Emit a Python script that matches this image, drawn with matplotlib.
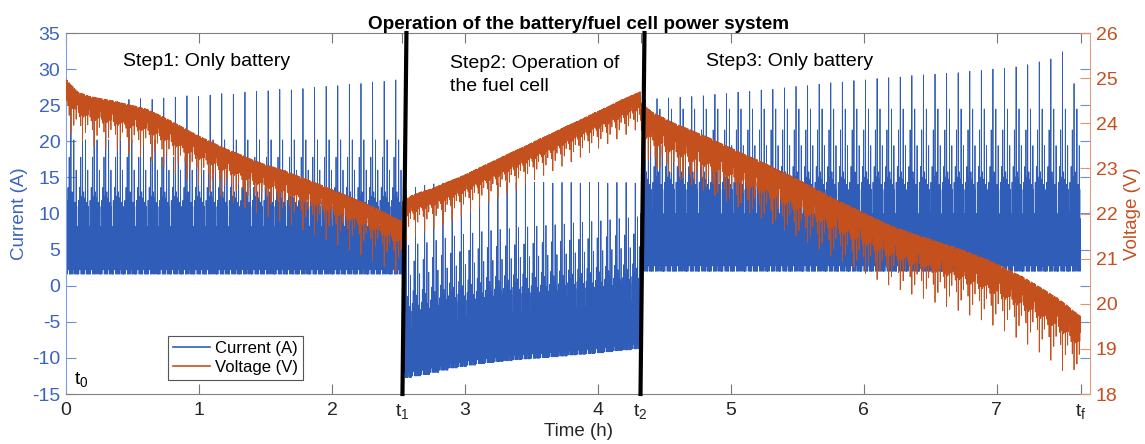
import numpy as np
import matplotlib
matplotlib.use("Agg")
import matplotlib.pyplot as plt
import matplotlib.transforms as mtransforms

plt.rcParams['font.family'] = ['Liberation Sans', 'DejaVu Sans']
plt.rcParams['axes.unicode_minus'] = False

# step boundaries t0, t1, t2, tf  (h)
step_edges = [0.0, 2.53, 4.32, 7.63]
edge_labels = [r'$\mathregular{t_0}$', r'$\mathregular{t_1}$', r'$\mathregular{t_2}$', r'$\mathregular{t_f}$']
step_names = ["Step1: Only battery", "Step2: Operation of\nthe fuel cell", "Step3: Only battery"]

# one drive cycle, load level of every sample (None = the tall spike of the cycle)
cycle_profile = [0.0, 0.55, 0.2, 0.85, 0.0, 0.7, 0.35, 1.0, 0.05, 0.8,
                 0.15, 1.35, 0.0, 0.6, 0.3, 0.9, 0.0, None, 0.1, 0.75,
                 0.0, 0.95, 0.4, 0.65, 0.0, 0.88, 0.25, 1.55, 0.05, 0.72,
                 0.0, 0.83, 0.45, 0.68, 0.0, 1.2, 0.2, 0.78, 0.0, 0.5]

# load span of the drive cycle (A) and voltage sag (V/A) of each step
span_step = [12.0, 11.8, 14.5]
sag_step = [0.045, 0.035, 0.050]

# ---- step 1 : battery only, one value per drive cycle
peak1 = [25.4, 25.3, 25.5, 25.6, 25.5, 25.8, 25.9, 25.8, 26.0, 26.1,
         26.3, 26.2, 26.4, 26.6, 26.5, 26.8, 26.9, 27.0, 27.2, 27.1,
         27.3, 27.5, 27.6, 27.7, 27.9, 28.0, 28.2, 28.3, 28.5]
base1 = [1.6] * 29
volt1 = [24.70, 24.42, 24.32, 24.27, 24.22, 24.16, 24.10, 24.03, 23.91, 23.78,
         23.64, 23.50, 23.37, 23.25, 23.13, 23.03, 22.92, 22.82, 22.74, 22.65,
         22.55, 22.45, 22.35, 22.24, 22.14, 22.03, 21.92, 21.80, 21.67]

# ---- step 2 : fuel cell on
peak2 = [13.3, 13.6, 13.9, 14.1, 14.2, 14.2, 14.3, 14.2, 14.3, 14.3,
         14.2, 14.3, 14.3, 14.2, 14.3, 14.3, 14.2, 14.3, 14.3, 14.2,
         14.3, 14.3, 14.2, 14.3, 14.3, 14.2]
base2 = [-12.7, -12.5, -12.3, -12.0, -11.7, -11.4, -11.2, -11.0, -10.8, -10.65,
         -10.5, -10.4, -10.25, -10.15, -10.05, -9.95, -9.85, -9.75, -9.6, -9.5,
         -9.4, -9.3, -9.15, -9.0, -8.9, -8.75]
volt2 = [22.05, 22.18, 22.26, 22.32, 22.40, 22.49, 22.57, 22.66, 22.76, 22.86,
         22.95, 23.05, 23.15, 23.24, 23.34, 23.44, 23.53, 23.63, 23.73, 23.82,
         23.92, 24.02, 24.11, 24.21, 24.31, 24.40]

# ---- step 3 : battery only
peak3 = [25.8, 25.9, 26.0, 26.1, 26.2, 26.3, 26.5, 26.6, 26.8, 26.9,
         27.1, 27.2, 27.4, 27.6, 27.7, 27.9, 28.1, 28.2, 28.4, 28.5,
         28.7, 28.8, 28.9, 29.1, 29.2, 29.3, 29.4, 29.5, 29.7, 29.8,
         30.0, 30.1, 30.3, 30.6, 31.0, 31.4, 32.4, 28.0]
base3 = [2.0] * 38
volt3 = [24.10, 23.88, 23.75, 23.62, 23.52, 23.41, 23.30, 23.18, 23.06, 22.94,
         22.83, 22.71, 22.58, 22.46, 22.33, 22.19, 22.05, 21.92, 21.80, 21.68,
         21.55, 21.43, 21.32, 21.23, 21.14, 21.06, 20.97, 20.89, 20.80, 20.70,
         20.60, 20.48, 20.35, 20.22, 20.07, 19.91, 19.75, 19.55]

BLUE = '#2F5DB8'
ORANGE = '#C4501E'
FS = 14


def build_step(t_start, t_end, base, peak, span, volt, sag):
  # repeat the drive cycle once per entry of peak/base/volt;
  # the voltage level moves on towards the next cycle's reading during a cycle
  n = len(peak)
  m = len(cycle_profile)
  period = (t_end - t_start) / n
  frac = np.arange(m) / m
  tt, ii, vv = [], [], []
  for k in range(n):
    cur = np.array([peak[k] if q is None else base[k] + span * q for q in cycle_profile])
    if k + 1 < n:
      step = volt[k + 1] - volt[k]
    else:
      step = volt[k] - volt[k - 1]
    level = volt[k] + step * frac
    tt.append(t_start + period * (k + frac))
    ii.append(cur)
    vv.append(level - sag * (cur - cur.mean()))
  return np.concatenate(tt), np.concatenate(ii), np.concatenate(vv)


steps = [(base1, peak1, volt1), (base2, peak2, volt2), (base3, peak3, volt3)]
t_all, i_all, v_all = [], [], []
for j, (b, p, v) in enumerate(steps):
  t, i, vo = build_step(step_edges[j], step_edges[j + 1], b, p, span_step[j], v, sag_step[j])
  t_all.append(t)
  i_all.append(i)
  v_all.append(vo)
time = np.concatenate(t_all)
current = np.concatenate(i_all)
voltage = np.concatenate(v_all)

fig = plt.figure(figsize=(11.45, 4.44), dpi=100)
ax = fig.add_axes([66 / 1145, 1 - 394 / 444, 1024 / 1145, 361 / 444])
ax2 = ax.twinx()

l1, = ax.plot(time, current, color=BLUE, lw=0.6, label='Current (A)')
l2, = ax2.plot(time, voltage, color=ORANGE, lw=0.6, label='Voltage (V)')

ax.set_xlim(0, 7.7)
ax.set_ylim(-15, 35)
ax2.set_ylim(18, 26)

# x ticks: hours plus the step instants
xt = [0, 1, 2, 3, 4, 5, 6, 7] + step_edges[1:]
xl = [str(v) for v in [0, 1, 2, 3, 4, 5, 6, 7]] + edge_labels[1:]
ax.set_xticks(xt)
ax.set_xticklabels(xl)
ax.set_yticks(np.arange(-15, 36, 5))
ax2.set_yticks(np.arange(18, 27, 1))

ax.tick_params(axis='x', direction='in', length=7, width=0.8, top=True,
               color='#777777', labelcolor='#262626', labelsize=FS, pad=6)
ax.tick_params(axis='y', direction='in', length=7, width=0.8, right=True,
               color='#6A8FD8', labelcolor='#3A63C2', labelsize=FS, pad=4)
ax2.tick_params(axis='y', direction='in', length=7, width=0.8,
                color='#E09470', labelcolor=ORANGE, labelsize=FS, pad=4)

for s in ['top', 'bottom']:
  ax.spines[s].set_color('#808080')
ax.spines['left'].set_color('#7FA0DC')
ax.spines['right'].set_visible(False)
for s in ['top', 'bottom', 'left']:
  ax2.spines[s].set_visible(False)
ax2.spines['right'].set_color('#E0A080')

ax.set_ylabel('Current (A)', color='#3A63C2', fontsize=13.5, labelpad=3)
ax2.set_ylabel('Voltage (V)', color=ORANGE, fontsize=13.5, labelpad=5)
ax.set_xlabel('Time (h)', color='#262626', fontsize=13.5, labelpad=1)
ax.set_title('Operation of the battery/fuel cell power system', fontsize=13.6,
             fontweight='bold', pad=1)

# thick black separators between the steps
trans = mtransforms.blended_transform_factory(ax2.transData, ax2.transAxes)
for te in step_edges[1:3]:
  ax2.plot([te, te + 0.03], [0, 1], color='black', lw=3.0, transform=trans, clip_on=False)

ax2.text(0.43, 25.36, step_names[0], fontsize=FS, va='center', ha='left')
ax2.text(2.89, 25.07, step_names[1], fontsize=FS, va='center', ha='left', linespacing=1.45)
ax2.text(4.81, 25.36, step_names[2], fontsize=FS, va='center', ha='left')
ax.text(0.06, -14.3, edge_labels[0], fontsize=FS, va='bottom', ha='left')

leg = ax2.legend(handles=[l1, l2], loc='lower left', bbox_to_anchor=(0.0996, 0.039),
                 borderaxespad=0, fancybox=False, framealpha=1, edgecolor='#555555',
                 fontsize=12, handlelength=2.2, borderpad=0.3, labelspacing=0.25, handletextpad=0.3)
leg.get_frame().set_linewidth(0.8)
for h in leg.get_lines():
  h.set_linewidth(1.2)

fig.savefig('out.png', dpi=100)
